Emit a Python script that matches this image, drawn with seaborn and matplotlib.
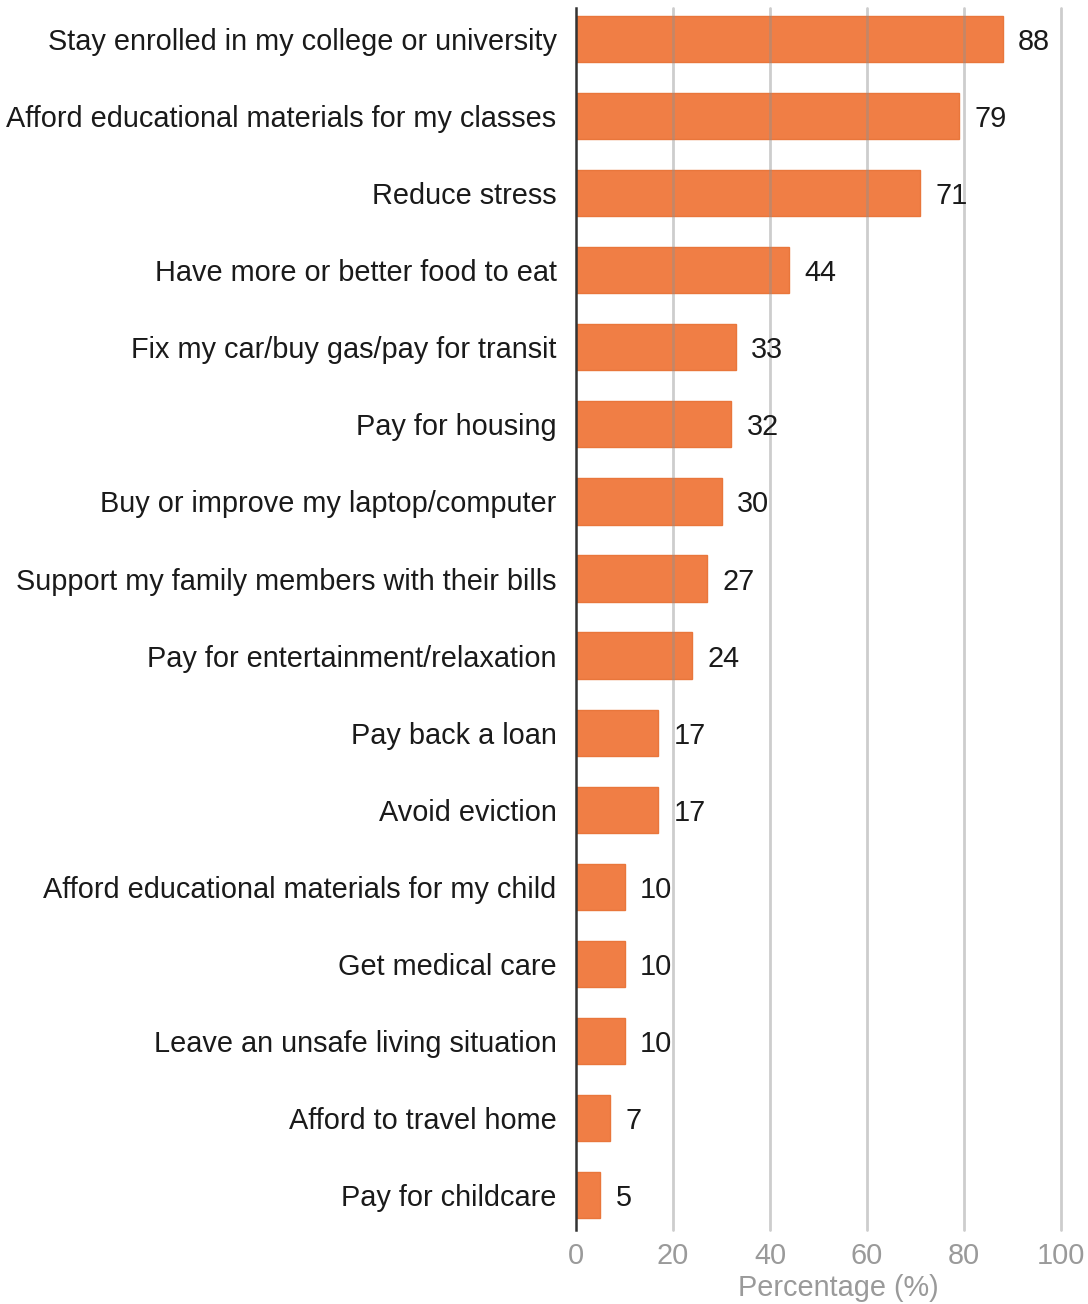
import matplotlib
matplotlib.use("Agg")
import matplotlib.pyplot as plt
import seaborn as sns
import pandas as pd

reasons = [
    "Stay enrolled in my college or university",
    "Afford educational materials for my classes",
    "Reduce stress",
    "Have more or better food to eat",
    "Fix my car/buy gas/pay for transit",
    "Pay for housing",
    "Buy or improve my laptop/computer",
    "Support my family members with their bills",
    "Pay for entertainment/relaxation",
    "Pay back a loan",
    "Avoid eviction",
    "Afford educational materials for my child",
    "Get medical care",
    "Leave an unsafe living situation",
    "Afford to travel home",
    "Pay for childcare",
]
percentages = [88, 79, 71, 44, 33, 32, 30, 27, 24, 17, 17, 10, 10, 10, 7, 5]
x_ticks = [0, 20, 40, 60, 80, 100]

df = pd.DataFrame({"reason": reasons, "pct": percentages})

sns.set_theme(style="white")
plt.rcParams["font.family"] = ["Liberation Sans", "DejaVu Sans"]

FS = 20.8

fig = plt.figure(figsize=(10.88, 13.04), dpi=100)
ax = fig.add_axes([576 / 1088, 1 - 1230 / 1304, 485 / 1088, (1230 - 8) / 1304])

sns.barplot(data=df, x="pct", y="reason", orient="h", color="#F07E45",
            saturation=1, width=0.6, edgecolor="#E9763B", linewidth=1, ax=ax)

labels = ax.bar_label(ax.containers[0], labels=[str(v) for v in percentages],
                      padding=11, fontsize=FS, color="#1a1a1a")
for t in labels:
    t.set_va("center_baseline")

ax.set_xlim(0, 100)
ax.set_ylim(15.45, -0.40)
ax.set_xticks(x_ticks)
ax.set_xticklabels([str(t) for t in x_ticks])
ax.tick_params(axis="x", length=0, pad=9, labelsize=FS, labelcolor="#9a9a9a")
ax.tick_params(axis="y", length=0, pad=14, labelsize=FS, labelcolor="#1a1a1a")

ax.set_axisbelow(False)
ax.xaxis.grid(True, color="#909090", alpha=0.45, linewidth=2)
ax.yaxis.grid(False)
grid_lines = ax.get_xgridlines()
grid_lines[0].set_visible(False)
for g in grid_lines:
    g.set_clip_on(False)

for side in ["top", "right", "bottom"]:
    ax.spines[side].set_visible(False)
ax.spines["left"].set_color("#333333")
ax.spines["left"].set_linewidth(1.8)
ax.spines["left"].set_zorder(4)

ax.set_ylabel("")
ax.set_xlabel("Percentage (%)", fontsize=FS, color="#9a9a9a")
ax.xaxis.set_label_coords(0.54, -0.036)

fig.savefig("out.png", dpi=100)
